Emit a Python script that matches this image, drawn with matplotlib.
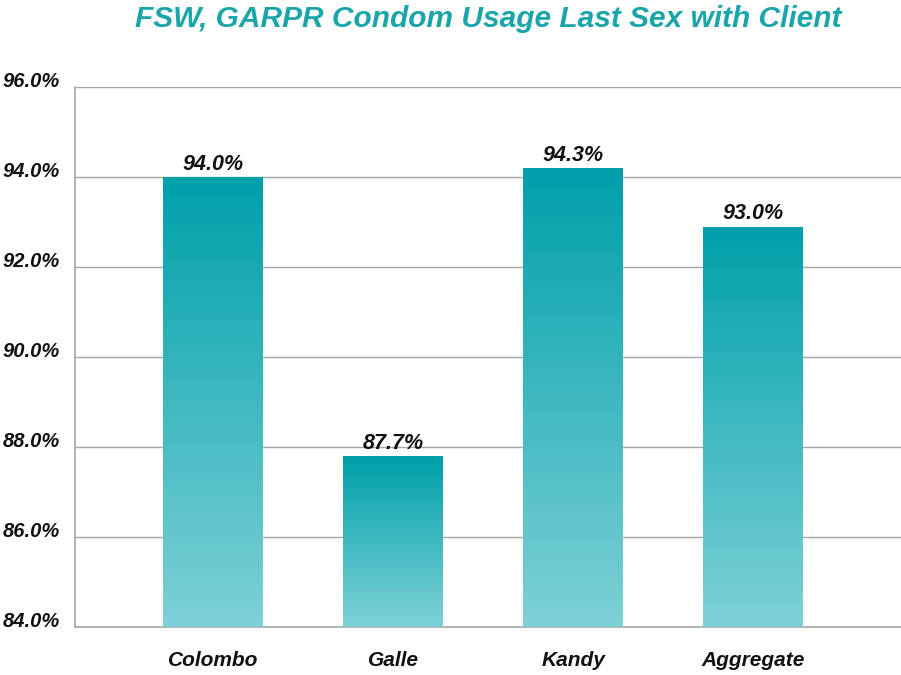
import numpy as np
import matplotlib.pyplot as plt
from matplotlib.colors import LinearSegmentedColormap

# data
categories = ["Colombo", "Galle", "Kandy", "Aggregate"]
values = [94.0, 87.8, 94.2, 92.9]
value_labels = ["94.0%", "87.7%", "94.3%", "93.0%"]
y_ticks = [84, 86, 88, 90, 92, 94, 96]

plt.rcParams["font.family"] = ["Liberation Sans", "DejaVu Sans"]

teal_top = "#00a0aa"
teal_bottom = "#7ed1d6"
cmap = LinearSegmentedColormap.from_list("teal", [teal_bottom, teal_top])
txt = dict(fontweight="bold", fontstyle="italic", color="#111111")

fig = plt.figure(figsize=(9.01, 6.75), dpi=100)
ax = fig.add_axes([75 / 901, 1 - 627 / 675, 826 / 901, 540 / 675])

x = np.arange(len(categories))
width = 0.555
ymin, ymax = 84, 96
bars = ax.bar(x, values, width=width, color="none", zorder=3)

grad = np.linspace(0, 1, 256).reshape(-1, 1)
for b, v in zip(bars, values):
    x0 = b.get_x()
    im = ax.imshow(grad, cmap=cmap, origin="lower", aspect="auto",
                   extent=[x0, x0 + width, ymin, v], zorder=3)
    im.set_clip_path(b)

for xi, v, lab in zip(x, values, value_labels):
    ax.text(xi, v + 0.16, lab, ha="center", va="baseline", fontsize=15.5, **txt)

ax.set_xlim(-0.767, 3.82)
ax.set_ylim(ymin, ymax)
ax.set_yticks(y_ticks)
ax.set_yticklabels([f"{t:.1f}%" for t in y_ticks], fontsize=14.5, va="baseline", **txt)
ax.set_xticks(x)
ax.set_xticklabels(categories, fontsize=15, **txt)
ax.tick_params(axis="both", length=0)
ax.tick_params(axis="x", pad=17)
ax.tick_params(axis="y", pad=11)
ax.grid(axis="y", color="#a6a6a6", linewidth=1, zorder=0)
ax.set_axisbelow(True)
for s in ["top", "right"]:
    ax.spines[s].set_visible(False)
for s in ["left", "bottom"]:
    ax.spines[s].set_color("#a6a6a6")
    ax.spines[s].set_linewidth(1.2)

fig.text(488 / 901, 1 - 19 / 675, "FSW, GARPR Condom Usage Last Sex with Client",
         ha="center", va="center", fontsize=21.5, fontweight="bold",
         fontstyle="italic", color="#1aa5aa")

fig.savefig("out.png", dpi=100)
